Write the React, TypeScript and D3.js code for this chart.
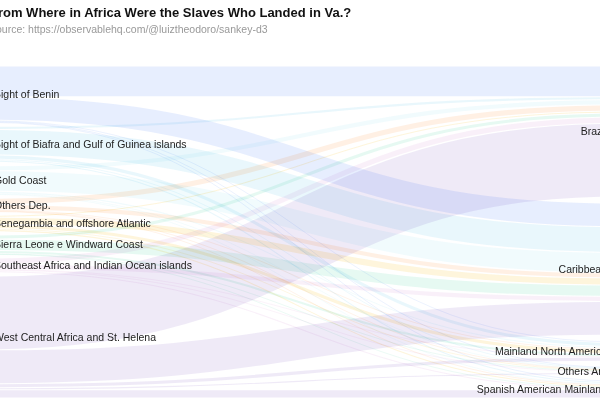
import React from "react";
import * as d3 from "d3";

const sourceNames = [
  "Bight of Benin",
  "Bight of Biafra and Gulf of Guinea islands",
  "Gold Coast",
  "Others Dep.",
  "Senegambia and offshore Atlantic",
  "Sierra Leone e Windward Coast",
  "Southeast Africa and Indian Ocean islands",
  "West Central Africa and St. Helena",
];
const targetNames = ["Brazil", "Caribbean", "Mainland North America", "Others Am", "Spanish American Mainland"];
// thousands of people, rows = source, columns = target
const flowBenin = [1050, 805, 35, 18, 35];
const flowBiafra = [105, 875, 140, 35, 70];
const flowGoldCoast = [175, 700, 70, 18, 35];
const flowOthersDep = [210, 175, 35, 18, 18];
const flowSenegambia = [70, 245, 140, 35, 70];
const flowSierraLeone = [140, 385, 105, 18, 18];
const flowSoutheast = [210, 175, 10, 35, 70];
const flowWestCentral = [2520, 1155, 140, 70, 280];
const flows = [flowBenin, flowBiafra, flowGoldCoast, flowOthersDep, flowSenegambia, flowSierraLeone, flowSoutheast, flowWestCentral];
const sourceColors = ["#5B8FF9", "#6DC8EC", "#9FE3F2", "#FF9D4D", "#F6BD16", "#5AD8A6", "#D99BD8", "#9270CA"];

const W = 600;
const H = 400;
const y0 = 66;
const y1 = 398;
const padL = 3.5;
const xLeft = -12;
const xRight = 619;

export default function App() {
  const srcTotals = flows.map((r) => d3.sum(r));
  const tgtTotals = targetNames.map((_, j) => d3.sum(flows, (r) => r[j]));
  const total = d3.sum(srcTotals);
  const ky = d3.scaleLinear().domain([0, total]).range([0, y1 - y0 - (sourceNames.length - 1) * padL]);
  const padR = (y1 - y0 - ky(total)) / (targetNames.length - 1);

  const srcY: number[] = [];
  let y = y0;
  srcTotals.forEach((v) => {
    srcY.push(y);
    y += ky(v) + padL;
  });
  const tgtY: number[] = [];
  y = y0;
  tgtTotals.forEach((v) => {
    tgtY.push(y);
    y += ky(v) + padR;
  });

  const srcOff = srcY.slice();
  const tgtOff = tgtY.slice();
  const links: { s: number; t: number; w: number; ys: number; yt: number }[] = [];
  flows.forEach((row, i) => {
    row.forEach((v, j) => {
      const w = ky(v);
      links.push({ s: i, t: j, w, ys: srcOff[i] + w / 2, yt: 0 });
      srcOff[i] += w;
    });
  });
  for (let j = 0; j < targetNames.length; j++) {
    links
      .filter((l) => l.t === j)
      .sort((a, b) => a.s - b.s)
      .forEach((l) => {
        l.yt = tgtOff[j] + l.w / 2;
        tgtOff[j] += l.w;
      });
  }
  const path = d3.linkHorizontal<any, [number, number]>().source((d: any) => d[0]).target((d: any) => d[1]);

  const font = "'Liberation Sans', Arial, Helvetica, sans-serif";
  return (
    <svg width={W} height={H} style={{ position: "fixed", left: 0, top: 0, background: "#fff" }} fontFamily={font}>
      <g>
        {links.map((l, k) => (
          <path
            key={k}
            d={path([[xLeft, l.ys], [xRight, l.yt]] as any) || ""}
            fill="none"
            stroke={sourceColors[l.s]}
            strokeOpacity={0.15}
            strokeWidth={Math.max(0.8, l.w - 1)}
            style={{ mixBlendMode: "multiply" }}
          />
        ))}
      </g>
      <g fontSize={10.5} fill="#222">
        {sourceNames.map((n, i) => (
          <text key={n} x={-6} y={srcY[i] + ky(srcTotals[i]) / 2} dy="0.35em">
            {n}
          </text>
        ))}
        {targetNames.map((n, j) => (
          <text key={n} x={607} y={tgtY[j] + ky(tgtTotals[j]) / 2} dy="0.35em" textAnchor="end">
            {n}
          </text>
        ))}
      </g>
      <text x={-10} y={17} fontSize={13} fontWeight="bold" fill="#111">
        From Where in Africa Were the Slaves Who Landed in Va.?
      </text>
      <text x={-11} y={33} fontSize={10.5} fill="#999">
        Source: https://observablehq.com/@luiztheodoro/sankey-d3
      </text>
    </svg>
  );
}
